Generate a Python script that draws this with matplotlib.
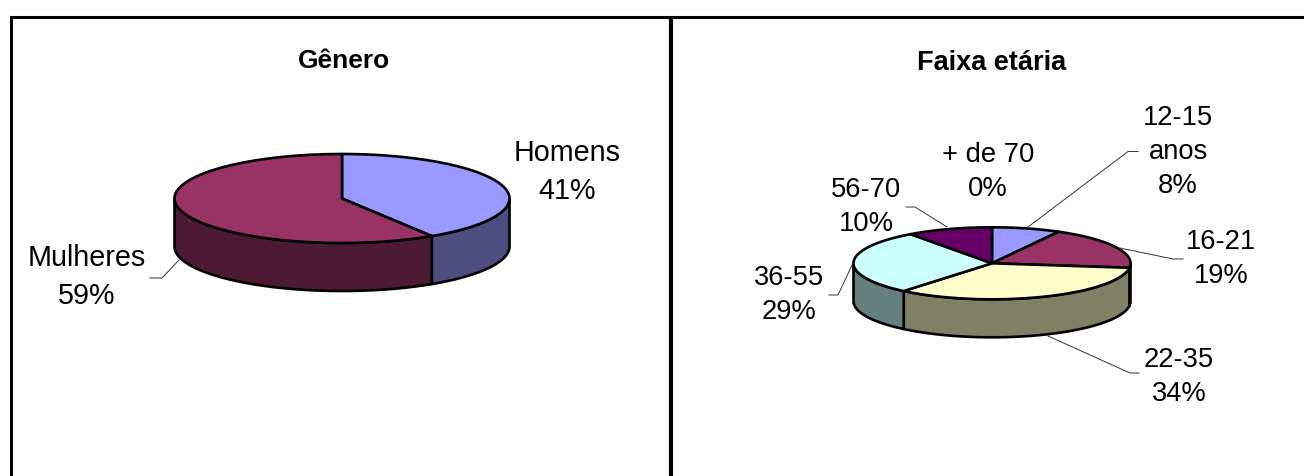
import numpy as np
import matplotlib
matplotlib.use('Agg')
import matplotlib.pyplot as plt

plt.rcParams['font.family'] = ['Liberation Sans', 'DejaVu Sans']

gender_labels = ['Homens\n41%', 'Mulheres\n59%']
gender_values = [41, 59]
gender_colors = ['#9999FF', '#993366']

age_labels = ['12-15\nanos\n8%', '16-21\n19%', '22-35\n34%', '36-55\n29%', '56-70\n10%', '+ de 70\n0%']
age_values = [8, 19, 34, 29, 10, 0]
age_colors = ['#9999FF', '#993366', '#FFFFCC', '#CCFFFF', '#660066', '#CC99FF']


def darker(color):
    return tuple(c * 0.5 for c in matplotlib.colors.to_rgb(color))


def arc(cx, cy, rx, ry, a, b):
    # angles are clockwise from the top of the ellipse, y axis points down
    t = np.radians(np.linspace(a, b, 120))
    return cx + rx * np.sin(t), cy - ry * np.cos(t)


def pie3d(ax, values, colors, cx, cy, rx, ry, depth):
    edges = np.cumsum([0] + list(values)) / sum(values) * 360

    # side walls first, only the front half can be seen
    for a, b, c in zip(edges[:-1], edges[1:], colors):
        lo, hi = max(a, 90), min(b, 270)
        if hi <= lo:
            continue
        x, y = arc(cx, cy, rx, ry, lo, hi)
        ax.fill(np.r_[x, x[::-1]], np.r_[y, y[::-1] + depth], fc=darker(c), ec='black', lw=1.9, joinstyle='round')

    for a, b, c in zip(edges[:-1], edges[1:], colors):
        if b <= a:
            continue
        x, y = arc(cx, cy, rx, ry, a, b)
        ax.fill(np.r_[cx, x], np.r_[cy, y], fc=c, ec='black', lw=1.9, joinstyle='round')


def leader(ax, xs, ys):
    ax.plot(xs, ys, color='#333333', lw=0.7)


fig = plt.figure(figsize=(13.04, 4.76), dpi=100)
ax = fig.add_axes([0, 0, 1, 1])
ax.set_xlim(0, 1304)
ax.set_ylim(476, 0)
ax.axis('off')

# frame
ax.plot([10.5, 10.5, 1304], [476, 16.5, 16.5], color='black', lw=2.2, solid_joinstyle='miter', solid_capstyle='butt')
ax.plot([670.5, 670.5], [16.5, 476], color='black', lw=3, solid_capstyle='butt')

# left chart
ax.text(344, 61, 'Gênero', ha='center', va='center', fontsize=19, fontweight='bold')
pie3d(ax, gender_values, gender_colors, 342, 198.5, 167.5, 44.5, 48)
leader(ax, [150, 162, 179], [278, 278, 260])
ax.text(567, 172, gender_labels[0], ha='center', va='center', fontsize=20.7, linespacing=1.45)
ax.text(87, 277, gender_labels[1], ha='center', va='center', fontsize=20.7, linespacing=1.45)

# right chart
ax.text(992, 62.5, 'Faixa etária', ha='center', va='center', fontsize=19.5, fontweight='bold')
pie3d(ax, age_values, age_colors, 992, 263.3, 138.5, 36, 38)
leader(ax, [1138, 1128, 1028], [151.5, 151.5, 227])
leader(ax, [1183, 1173, 1120], [259, 259, 248])
leader(ax, [1139, 1130, 1048], [373, 373, 336])
leader(ax, [829, 838, 853], [295, 295, 263])
leader(ax, [906, 915, 947], [207, 207, 227])

age_pos = [(1178, 152), (1221, 259), (1179, 377), (789, 295), (866, 207), (988, 172)]
for label, (x, y) in zip(age_labels, age_pos):
    ax.text(x, y, label, ha='center', va='center', fontsize=19.7, linespacing=1.42)

fig.savefig('out.png', dpi=100)
